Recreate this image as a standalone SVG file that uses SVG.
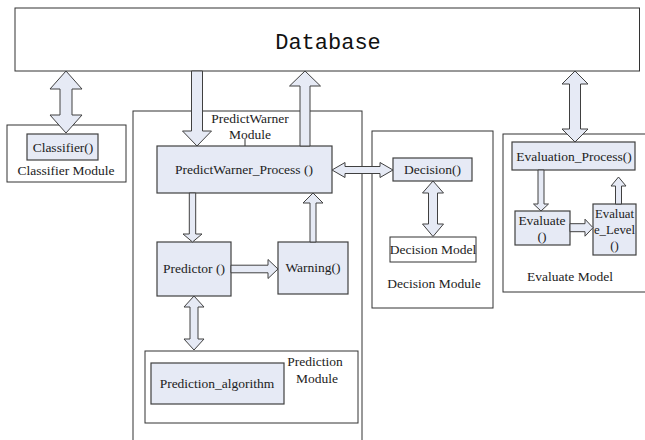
<svg xmlns="http://www.w3.org/2000/svg" width="645" height="440" viewBox="0 0 645 440">
<style>
.cont{fill:#ffffff;stroke:#333333;stroke-width:1}
.box{fill:#E6EAF5;stroke:#404040;stroke-width:1.2}
.wbox{fill:#ffffff;stroke:#333333;stroke-width:1}
.arr{fill:#E6EAF5;stroke:#404040;stroke-width:1}
.t{font-family:'Liberation Serif','DejaVu Serif',serif;font-size:13.5px;fill:#222222;text-anchor:middle}
.s{font-size:12.8px}
.db{font-family:'Liberation Mono','DejaVu Sans Mono',monospace;font-size:22px;fill:#111111;text-anchor:middle}
</style>
<rect width="645" height="440" fill="#ffffff"/>
<g id="database">
<rect class="wbox" x="15" y="8" width="624.5" height="63"/>
<text class="db" x="328" y="49">Database</text>
</g>
<g id="classifier-module">
<rect class="cont" x="7" y="125" width="119" height="57"/>
<text class="t" x="66" y="175">Classifier Module</text>
</g>
<g id="classifier">
<rect class="box" x="27" y="134" width="71" height="26"/>
<text class="t" x="63" y="152">Classifier()</text>
</g>
<g id="predictwarner-module">
<rect class="cont" x="133" y="111" width="229" height="346"/>
<text class="t" x="250" y="123">PredictWarner</text>
<text class="t" x="250" y="139">Module</text>
<line x1="245" y1="139" x2="245" y2="146" stroke="#333333" stroke-width="1"/>
</g>
<g id="predictwarner-process">
<rect class="box" x="157" y="146" width="175" height="47"/>
<text class="t" x="244" y="174">PredictWarner_Process ()</text>
</g>
<g id="predictor">
<rect class="box" x="157" y="242" width="74" height="54"/>
<text class="t" x="194" y="273">Predictor ()</text>
</g>
<g id="warning">
<rect class="box" x="278" y="242" width="70" height="52"/>
<text class="t" x="313" y="272">Warning()</text>
</g>
<g id="prediction-module">
<rect class="cont" x="145" y="351" width="213" height="72"/>
<text class="t" x="315" y="366">Prediction</text>
<text class="t" x="317" y="383">Module</text>
</g>
<g id="prediction-algorithm">
<rect class="box" x="151" y="363" width="133" height="41"/>
<text class="t" x="217" y="388">Prediction_algorithm</text>
</g>
<g id="decision-module">
<rect class="cont" x="372" y="131" width="121" height="177"/>
<text class="t" x="434" y="288">Decision Module</text>
</g>
<g id="decision">
<rect class="box" x="393" y="158" width="79" height="23"/>
<text class="t" x="432.5" y="174">Decision()</text>
</g>
<g id="decision-model">
<rect class="wbox" x="390" y="237" width="86" height="25"/>
<text class="t" x="433" y="254">Decision Model</text>
</g>
<g id="evaluate-model">
<rect class="cont" x="503" y="134" width="147" height="158"/>
<text class="t" x="570" y="281">Evaluate Model</text>
</g>
<g id="evaluation-process">
<rect class="box" x="512" y="142" width="123" height="28"/>
<text class="t" x="574" y="161">Evaluation_Process()</text>
</g>
<g id="evaluate">
<rect class="box" x="515" y="211" width="55" height="34"/>
<text class="t" x="542" y="225">Evaluate</text>
<text class="t" x="542" y="241">()</text>
</g>
<g id="evaluate-level">
<rect class="box" x="593" y="204" width="43" height="51"/>
<text class="t s" x="614.5" y="218">Evaluat</text>
<text class="t s" x="614.5" y="234">e_Level</text>
<text class="t s" x="614.5" y="250">()</text>
</g>
<g id="connectors">
<polygon class="arr" points="66,71 82,89 72,89 72,115 82,115 66,133 50,115 60,115 60,89 50,89"/>
<polygon class="arr" points="191.5,71 202.5,71 202.5,131 211.5,131 197,146 182.5,131 191.5,131"/>
<polygon class="arr" points="305,71 320.5,86 310,86 310,146 300,146 300,86 289.5,86"/>
<polygon class="arr" points="332,170 345,162.5 345,166.5 380,166.5 380,162.5 393,170 380,177.5 380,173.5 345,173.5 345,177.5"/>
<polygon class="arr" points="189.3,193 195.7,193 195.7,234 202,234 192.5,242 183,234 189.3,234"/>
<polygon class="arr" points="313,193 323,203 316,203 316,242 310,242 310,203 303,203"/>
<polygon class="arr" points="231,265.2 268,265.2 268,259.5 278,269 268,278.5 268,272.8 231,272.8"/>
<polygon class="arr" points="194,296 204,307 198,307 198,339 204,339 194,350 184,339 190,339 190,307 184,307"/>
<polygon class="arr" points="433,181 443.5,193 437.5,193 437.5,224 443.5,224 433,236.5 422.5,224 428.5,224 428.5,193 422.5,193"/>
<polygon class="arr" points="575,71 588,84 580.5,84 580.5,129 588,129 575,142 562,129 569.5,129 569.5,84 562,84"/>
<polygon class="arr" points="538,170 544,170 544,204 548.5,204 541,211 533.5,204 538,204"/>
<polygon class="arr" points="570,223.7 585,223.7 585,219.2 593,227.7 585,236.2 585,231.7 570,231.7"/>
<polygon class="arr" points="618.5,177 626,186 621.5,186 621.5,204 615.5,204 615.5,186 611,186"/>
</g>
</svg>
